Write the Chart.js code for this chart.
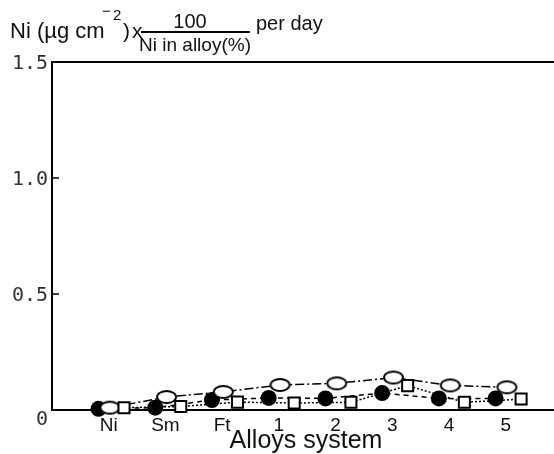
<!DOCTYPE html>
<html>
<head>
<meta charset="utf-8">
<script src="https://cdn.jsdelivr.net/npm/chart.js@4.4.1/dist/chart.umd.min.js"></script>
<style>
  html, body { margin: 0; padding: 0; background: #fff; }
  canvas { display: block; }
</style>
</head>
<body>
<canvas id="chart" width="554" height="454"></canvas>
<script>
// ---- Datos ----
const categories = ['Ni', 'Sm', 'Ft', '1', '2', '3', '4', '5'];
const filledCircle = [0.005, 0.01, 0.043, 0.052, 0.05, 0.073, 0.05, 0.05];
const openEllipse = [0.01, 0.056, 0.078, 0.108, 0.115, 0.14, 0.106, 0.098];
const openSquare = [0.01, 0.015, 0.034, 0.03, 0.033, 0.105, 0.033, 0.047];
const yTicks = [0, 0.5, 1.0, 1.5];
const yTickLabels = ['0', '0.5', '1.0', '1.5'];

// desplazamiento horizontal de cada serie dentro del grupo
function serie(values, shift) {
  return values.map((v, i) => ({ x: i + shift, y: v }));
}

// marcador: elipse abierta
function ellipseMarker(w, h) {
  const c = document.createElement('canvas');
  c.width = w + 4; c.height = h + 4;
  const g = c.getContext('2d');
  g.beginPath();
  g.ellipse(c.width / 2, c.height / 2, w / 2, h / 2, 0, 0, Math.PI * 2);
  g.fillStyle = '#fff';
  g.fill();
  g.lineWidth = 2;
  g.strokeStyle = '#000';
  g.stroke();
  return c;
}

// ---- Textos y marco ----
const decor = {
  id: 'decor',
  afterDraw(chart) {
    const ctx = chart.ctx;
    const a = chart.chartArea;
    const y = chart.scales.y;
    ctx.save();
    ctx.strokeStyle = '#000';
    ctx.lineWidth = 2;
    // linea superior
    ctx.beginPath();
    ctx.moveTo(a.left - 1, a.top);
    ctx.lineTo(chart.width, a.top);
    ctx.stroke();
    // marcas hacia dentro
    ctx.lineWidth = 1.5;
    yTicks.forEach(v => {
      if (v === 0 || v === 1.5) return;
      const py = y.getPixelForValue(v);
      ctx.beginPath();
      ctx.moveTo(a.left, py);
      ctx.lineTo(a.left + 7, py);
      ctx.stroke();
    });
    // etiquetas eje y
    ctx.fillStyle = '#333';
    ctx.font = '20px "DejaVu Sans Mono"';
    ctx.textAlign = 'right';
    ctx.textBaseline = 'middle';
    yTicks.forEach((v, i) => {
      let py = y.getPixelForValue(v);
      if (v === 0) py += 8;
      ctx.fillText(yTickLabels[i], a.left - 4, py + 2);
    });

    // titulo eje y
    ctx.fillStyle = '#111';
    ctx.textAlign = 'left';
    ctx.textBaseline = 'alphabetic';
    ctx.font = '22px "Liberation Sans", Arial, sans-serif';
    ctx.fillText('Ni (\u00b5g cm', 10, 38);
    ctx.font = '15px "Liberation Sans", Arial, sans-serif';
    ctx.fillText('\u2212', 102, 16);
    ctx.fillText('2', 113, 20);
    ctx.font = '21px "Liberation Sans", Arial, sans-serif';
    ctx.fillText(')', 123, 38);
    ctx.fillText('x', 132, 38);
    ctx.lineWidth = 2;
    ctx.beginPath();
    ctx.moveTo(141, 32);
    ctx.lineTo(250, 32);
    ctx.stroke();
    ctx.textAlign = 'center';
    ctx.font = '20px "Liberation Sans", Arial, sans-serif';
    ctx.fillText('100', 190, 28);
    ctx.font = '19px "Liberation Sans", Arial, sans-serif';
    ctx.fillText('Ni in alloy(%)', 195, 51);
    ctx.textAlign = 'left';
    ctx.font = '20px "Liberation Sans", Arial, sans-serif';
    ctx.fillText('per day', 256, 30);

    // titulo eje x
    ctx.textAlign = 'center';
    ctx.font = '25px "Liberation Sans", Arial, sans-serif';
    ctx.fillText('Alloys system', 306, 448);
    ctx.restore();
  }
};

const lineBase = { borderColor: '#000', borderWidth: 1.5, fill: false, clip: false, tension: 0 };

new Chart(document.getElementById('chart'), {
  type: 'line',
  data: {
    datasets: [
      {
        ...lineBase,
        label: 'open square',
        data: serie(openSquare, 0.27),
        borderDash: [2, 2],
        pointStyle: 'rect',
        pointRadius: 7.8,
        pointBorderWidth: 2,
        pointBackgroundColor: '#fff',
        pointBorderColor: '#000'
      },
      {
        ...lineBase,
        label: 'open ellipse',
        data: serie(openEllipse, 0.02),
        borderDash: [9, 3, 2, 3],
        pointStyle: ellipseMarker(19, 12),
        pointRadius: 9
      },
      {
        ...lineBase,
        label: 'filled circle',
        data: serie(filledCircle, -0.18),
        borderDash: [5, 4],
        pointStyle: 'circle',
        pointRadius: 8,
        pointBorderWidth: 0,
        pointBackgroundColor: '#000'
      }
    ]
  },
  options: {
    responsive: false,
    animation: false,
    events: [],
    layout: { autoPadding: false, padding: { top: 62, right: 0, left: 0, bottom: 0 } },
    plugins: { legend: { display: false }, tooltip: { enabled: false } },
    scales: {
      x: {
        type: 'linear',
        min: -1,
        max: 7.85,
        afterFit(s) { s.height = 44; },
        afterBuildTicks(s) { s.ticks = categories.map((c, i) => ({ value: i })); },
        grid: { display: false, drawTicks: false },
        border: { display: true, color: '#000', width: 2 },
        ticks: {
          autoSkip: false,
          maxRotation: 0,
          padding: 4,
          color: '#111',
          font: { family: '"Liberation Sans", Arial, sans-serif', size: 19 },
          callback: v => categories[v] ?? ''
        }
      },
      y: {
        min: 0,
        max: 1.5,
        afterFit(s) { s.width = 52; },
        grid: { display: false, drawTicks: false },
        border: { display: true, color: '#000', width: 2 },
        ticks: { display: false }
      }
    }
  },
  plugins: [decor]
});
</script>
</body>
</html>
